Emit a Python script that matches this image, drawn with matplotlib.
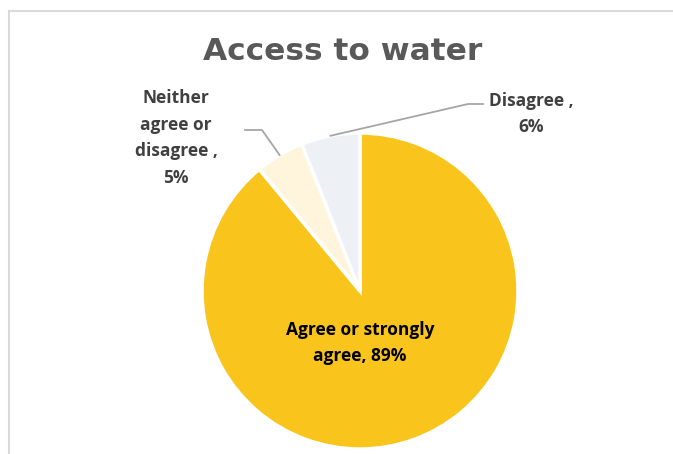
import numpy as np
import matplotlib.pyplot as plt
from matplotlib.lines import Line2D

labels = ['Agree or strongly\nagree, 89%', 'Neither\nagree or\ndisagree ,\n5%', 'Disagree ,\n6%']
values = [89, 5, 6]
colors = ['#F9C51D', '#FEF5DC', '#EDF0F4']

W, H = 673, 454
fig = plt.figure(figsize=(W / 100, H / 100), dpi=100)
plt.rcParams['font.family'] = ['Open Sans', 'DejaVu Sans']

# pie axes: square box in pixels, centre (360, 291), radius 158
cx, cy, r = 360, 291, 158
ax = fig.add_axes([(cx - r) / W, (H - cy - r) / H, 2 * r / W, 2 * r / H])
wedges, _ = ax.pie(values, colors=colors, startangle=90, counterclock=False,
                   wedgeprops=dict(edgecolor='white', linewidth=2.5))
ax.set_xlim(-1, 1)
ax.set_ylim(-1, 1)
ax.axis('off')

def px(x, y):
    return (x - cx) / r, (cy - y) / r

# data labels
ax.text(*px(360, 343), labels[0], ha='center', va='center', fontsize=12.5,
        fontweight='bold', color='black', linespacing=1.62)

label_pos = {1: (176, 138), 2: (531, 114)}
elbow = {1: [(262, 130), (245, 130)], 2: [(468, 104), (483, 104)]}
for i in (1, 2):
    w = wedges[i]
    ang = np.deg2rad((w.theta1 + w.theta2) / 2)
    x0, y0 = np.cos(ang), np.sin(ang)
    pts = [(x0, y0)] + [px(*p) for p in elbow[i]]
    xs, ys = zip(*pts)
    ax.plot(xs, ys, color='#A6A6A6', lw=1.3, clip_on=False)
    ax.text(*px(*label_pos[i]), labels[i], ha='center', va='center', fontsize=12.5,
            fontweight='bold', color='#404040', linespacing=1.62)

fig.text(343 / W, 1 - 52 / H, 'Access to water', ha='center', va='center',
         fontsize=22.5, fontweight='bold', color='#595959', family='DejaVu Sans')

# chart area border (left and top only visible)
fig.add_artist(Line2D([8.5 / W, 8.5 / W], [0, 1 - 11 / H], color='#D9D9D9', lw=1.5))
fig.add_artist(Line2D([8.5 / W, 1], [1 - 11 / H, 1 - 11 / H], color='#D9D9D9', lw=1.5))

fig.savefig('out.png', dpi=100)
